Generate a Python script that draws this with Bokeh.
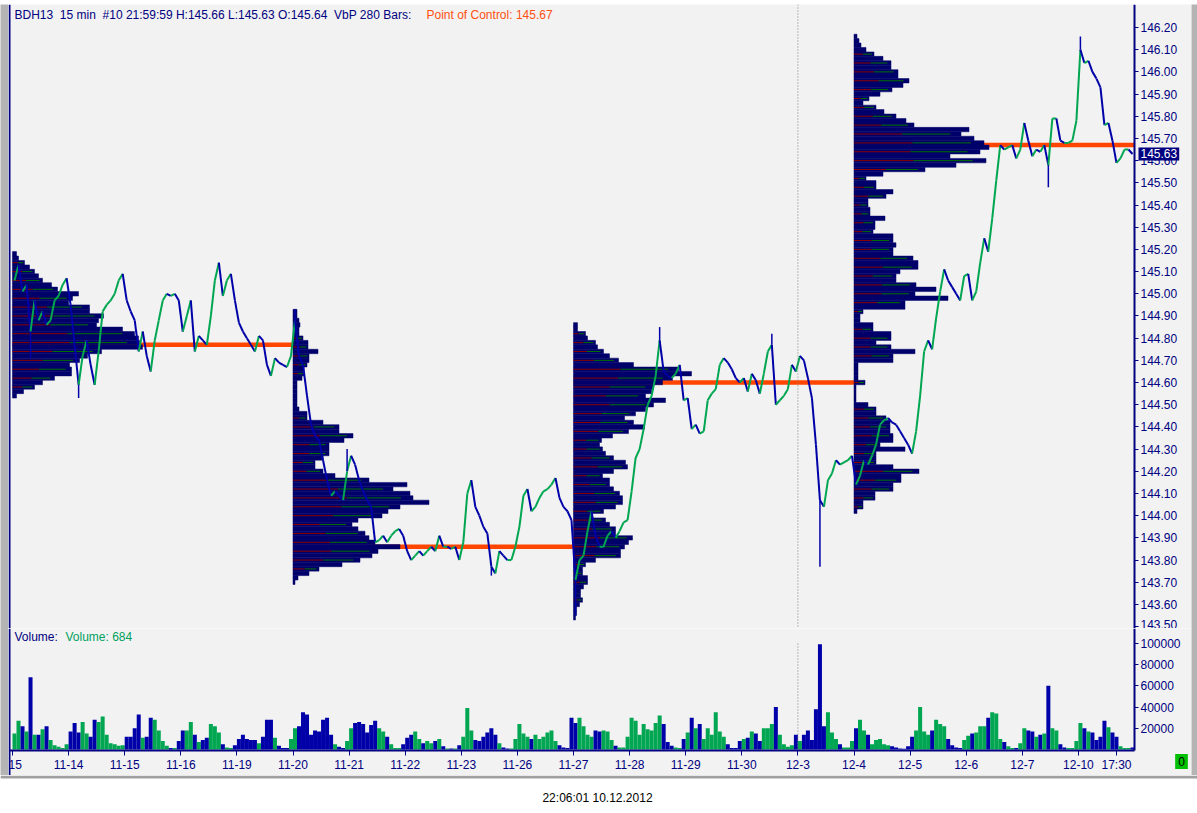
from bokeh.plotting import figure
from bokeh.models import (Range1d, FixedTicker, PrintfTickFormatter, Label, ColumnDataSource,
                          Span, LinearAxis)
from bokeh.layouts import column, row
from bokeh.embed import file_html
from bokeh.resources import INLINE

# ---------------- data ----------------
header_info = "BDH13\u00a0 15 min\u00a0 #10 21:59:59 H:145.66 L:145.63 O:145.64\u00a0 VbP 280 Bars:"
header_poc = "Point of Control: 145.67"
volume_title = "Volume:"
volume_value = "Volume: 684"
timestamp = "22:06:01 10.12.2012"
last_price = 145.63
last_marker = "0"

day_labels = ["15", "11-14", "11-15", "11-16", "11-19", "11-20", "11-21", "11-22", "11-23",
              "11-26", "11-27", "11-28", "11-29", "11-30", "12-3", "12-4", "12-5", "12-6",
              "12-7", "12-10"]
session_open_hour = 8.0
session_hours = 14.0
extra_tick_label = "17:30"
extra_tick_hour = 17.5
month_break_label = "12-3"
samples_per_day = 14

close = [
    145.06, 145.13, 145.01, 145.04, 144.83, 144.97, 144.88, 144.92, 144.86, 144.88, 144.97, 144.99, 145.04, 145.07,
    144.95, 144.77, 144.59, 144.72, 144.79, 144.68, 144.59, 144.74, 144.92, 144.95, 144.97, 145.00, 145.06, 145.09,
    144.97, 144.92, 144.88, 144.74, 144.83, 144.72, 144.65, 144.79, 144.88, 144.97, 145.00, 144.99, 145.00, 144.97,
    144.83, 144.90, 144.97, 144.74, 144.81, 144.79, 144.77, 144.90, 145.06, 145.14, 144.99, 145.06, 145.09, 144.97,
    144.87, 144.83, 144.80, 144.77, 144.74, 144.81, 144.79, 144.68, 144.63, 144.71, 144.69, 144.68, 144.67, 144.72,
    144.88, 144.72, 144.68, 144.54, 144.41, 144.36, 144.34, 144.25, 144.16, 144.09, 144.11, 144.09, 144.07, 144.20,
    144.27, 144.23, 144.16, 144.11, 144.07, 144.04, 143.88, 143.89, 143.91, 143.88, 143.91, 143.93, 143.94, 143.91,
    143.84, 143.80, 143.82, 143.84, 143.82, 143.84, 143.86, 143.84, 143.91, 143.86, 143.86, 143.85, 143.86, 143.80,
    143.88, 144.10, 144.16, 144.04, 144.00, 143.95, 143.92, 143.77, 143.74, 143.84, 143.82, 143.80, 143.80, 143.86,
    143.95, 144.09, 144.12, 144.02, 144.04, 144.08, 144.11, 144.12, 144.14, 144.17, 144.08, 144.04, 144.02, 143.98,
    143.71, 143.80, 143.82, 143.93, 144.02, 143.91, 143.86, 143.86, 143.91, 143.93, 143.90, 143.93, 143.97, 143.98,
    144.11, 144.26, 144.30, 144.39, 144.50, 144.54, 144.63, 144.79, 144.65, 144.63, 144.62, 144.64, 144.68, 144.52,
    144.53, 144.39, 144.41, 144.37, 144.38, 144.52, 144.55, 144.57, 144.68, 144.71, 144.69, 144.66, 144.62, 144.60,
    144.62, 144.56, 144.64, 144.61, 144.55, 144.64, 144.74, 144.77, 144.50, 144.52, 144.54, 144.57, 144.68, 144.65,
    144.72, 144.70, 144.62, 144.53, 144.32, 144.07, 144.04, 144.16, 144.19, 144.25, 144.23, 144.24, 144.25, 144.27,
    144.14, 144.18, 144.25, 144.23, 144.27, 144.32, 144.41, 144.43, 144.44, 144.42, 144.41, 144.38, 144.35, 144.32,
    144.28, 144.38, 144.54, 144.74, 144.79, 144.75, 144.89, 145.01, 145.11, 145.06, 145.03, 145.00, 144.97, 145.08,
    145.09, 144.97, 145.01, 145.14, 145.25, 145.19, 145.34, 145.51, 145.67, 145.65, 145.66, 145.67, 145.61, 145.65,
    145.77, 145.69, 145.62, 145.65, 145.64, 145.67, 145.58, 145.79, 145.79, 145.69, 145.68, 145.68, 145.69, 145.78,
    146.10, 146.04, 146.05, 146.00, 145.97, 145.93, 145.76, 145.77, 145.69, 145.59, 145.61, 145.65, 145.65, 145.63,
]

# volume per sample, thousands of contracts
vol_k = [
    15, 27, 22, 17, 68, 14, 14, 19, 22, 9, 4, 2.5, 1.5, 5,
    17, 25, 16, 26, 15, 12, 28, 26, 31, 14, 6, 5, 3.5, 4,
    12, 12, 20, 33, 11, 12, 30, 28, 18, 8, 3.5, 1.5, 1.5, 8,
    18, 18, 26, 14, 7, 9, 11, 24, 22, 16, 5, 2, 1.5, 4,
    10, 14, 10, 9, 9, 6, 12, 28, 28, 11, 3.5, 1.5, 1.5, 10,
    20, 22, 35, 33, 14, 18, 17, 28, 30, 14, 5, 2.5, 1.5, 8,
    20, 25, 26, 24, 16, 23, 27, 20, 17, 12, 5, 1.5, 1.5, 5,
    11, 14, 17, 10, 6, 8, 6, 8, 10, 3, 1, 1, 1, 4,
    12, 39, 18, 9, 8, 12, 16, 20, 14, 6, 2, 1, 1, 10,
    24, 15, 12, 10, 14, 10, 12, 16, 18, 8, 4, 2, 1.5, 30,
    25, 30, 22, 14, 12, 18, 17, 18, 17, 9, 3.5, 2, 2, 12,
    30, 27, 14, 24, 19, 18, 25, 32, 24, 7, 3.5, 2, 1.5, 10,
    16, 30, 20, 24, 10, 20, 14, 35, 17, 12, 5, 1.5, 1.5, 8,
    10, 11, 17, 15, 8, 20, 20, 24, 40, 14, 5, 2.5, 4, 14,
    8, 14, 18, 9, 38, 99, 22, 35, 16, 10, 5, 2, 2, 8,
    20, 28, 18, 14, 5, 9, 10, 5, 4, 3, 2, 1, 0.6, 3,
    12, 18, 40, 17, 14, 18, 28, 24, 22, 10, 4, 2, 1.5, 9,
    13, 15, 16, 22, 22, 30, 35, 34, 10, 7, 3, 1.5, 1.5, 6,
    20, 18, 17, 12, 14, 15, 60, 20, 18, 5, 2, 1.5, 1.5, 8,
    25, 20, 17, 16, 9, 12, 27, 21, 16, 12, 3, 1.5, 1.5, 2,
]

# extreme prints that stick out of the close path
spike_idx = [4, 16, 70, 83, 119, 140, 161, 189, 201, 258, 266]
spike_price = [144.71, 144.53, 144.93, 144.30, 143.73, 143.55, 144.85, 144.82, 143.77, 145.48, 146.16]

# volume-by-price profiles, one per 5-day block (top level, step 0.02, volume units)
week_len_days = 5
poc_price = [144.77, 143.86, 144.60, 145.67]
vbp_step = 0.02
vbp_top = [145.18, 144.92, 144.86, 146.16]
vbp1 = [4, 6, 12, 17, 22, 26, 30, 39, 45, 66, 60, 56, 77, 77, 91, 86, 84, 110, 122, 126,
        127, 130, 89, 75, 67, 57, 59, 59, 42, 30, 22, 11, 4]
vbp2 = [4, 4, 6, 7, 6, 6, 10, 15, 15, 25, 16, 16, 14, 11, 11, 9, 4, 4, 4, 4,
        4, 4, 6, 14, 14, 30, 46, 46, 60, 51, 36, 36, 36, 30, 22, 22, 30, 42, 76, 114,
        100, 117, 120, 136, 107, 95, 89, 65, 59, 65, 72, 76, 82, 107, 85, 79, 67, 49, 26, 16,
        5, 2]
vbp3 = [4, 4, 12, 14, 22, 24, 30, 36, 45, 60, 105, 118, 99, 89, 80, 78, 72, 92, 80, 72,
        62, 51, 60, 71, 55, 39, 28, 26, 29, 32, 40, 52, 54, 40, 29, 36, 36, 40, 46, 49,
        49, 42, 30, 19, 32, 36, 42, 42, 59, 55, 51, 47, 47, 22, 12, 9, 9, 14, 14, 10,
        7, 7, 9, 6, 3, 3, 2]
vbp4 = [3, 5, 7, 12, 20, 29, 37, 37, 44, 44, 55, 49, 38, 26, 15, 9, 22, 30, 42, 52,
        60, 115, 107, 120, 130, 135, 126, 96, 132, 102, 71, 29, 12, 22, 22, 39, 32, 14, 14, 16,
        16, 31, 21, 21, 19, 39, 39, 42, 39, 39, 59, 64, 64, 46, 42, 42, 62, 82, 61, 94,
        51, 51, 9, 6, 6, 19, 19, 37, 37, 22, 37, 61, 39, 39, 4, 4, 4, 4, 11, 2,
        2, 2, 2, 14, 22, 22, 32, 36, 36, 36, 39, 39, 26, 51, 22, 22, 22, 39, 65, 47,
        47, 39, 39, 21, 21, 9, 9, 3]

price_tick_lo, price_tick_hi, price_tick_step = 143.50, 146.20, 0.10
vol_ticks = [20000, 40000, 60000, 80000, 100000]

# ---------------- geometry / style ----------------
PAGE_W, PAGE_H = 1197, 813
LEFT_W, RIGHT_W, TOP_H = 8, 6, 4
PANE_W = PAGE_W - LEFT_W - RIGHT_W
PRICE_H = 624
VOL_H = 147
STATUS_H = PAGE_H - TOP_H - PRICE_H - VOL_H

PX_PER_DAY = 56.1
PX_PER_PRICE = 221.9
PX_PER_VOL = 1.0625 / 1000.0
VBP_UNIT_DAYS = 1.0 / PX_PER_DAY
DAY0_PX = 12 - LEFT_W
AXIS_PX = 1134 - LEFT_W

X0 = -DAY0_PX / PX_PER_DAY
X1 = X0 + PANE_W / PX_PER_DAY
X_AXIS = X0 + AXIS_PX / PX_PER_DAY
X_LEFT = X0 + 1.0 / PX_PER_DAY
P_HI = 146.20 + (27 - TOP_H) / PX_PER_PRICE
P_LO = P_HI - PRICE_H / PX_PER_PRICE
VBASE_PX = 749 - TOP_H - PRICE_H
V_HI = VBASE_PX / PX_PER_VOL
V_LO = V_HI - VOL_H / PX_PER_VOL
V_AXIS = -1.0 / PX_PER_VOL

BG = "#f2f2f2"
NAVY = "#000080"
BAR_BLUE = "#0000a8"
BAR_GREEN = "#00a651"
PROFILE = "#00006a"
POC = "#ff4500"
FRAME_GRAY = "#b4b4b4"
FONT = "Liberation Sans"


def pane(width, height, xr, yr, bg=BG):
    f = figure(width=width, height=height, x_range=xr, y_range=yr, output_backend="svg",
               toolbar_location=None, x_axis_location=None, y_axis_location=None,
               min_border=0, min_border_left=0, min_border_right=0,
               min_border_top=0, min_border_bottom=0)
    f.background_fill_color = bg
    f.border_fill_color = bg
    f.outline_line_color = None
    f.grid.visible = False
    return f


def style_axis(ax):
    ax.axis_line_color = NAVY
    ax.axis_line_width = 2
    ax.major_tick_line_color = NAVY
    ax.major_tick_in = 0
    ax.major_tick_out = 4
    ax.minor_tick_line_color = None
    ax.major_label_text_color = NAVY
    ax.major_label_text_font = FONT
    ax.major_label_text_font_size = "12px"
    ax.major_label_standoff = 2


# ---------------- price pane ----------------
p = pane(PANE_W, PRICE_H, Range1d(X0, X1), Range1d(P_LO, P_HI))
n_ticks = int(round((price_tick_hi - price_tick_lo) / price_tick_step)) + 1
price_ticks = [round(price_tick_lo + price_tick_step * i, 2) for i in range(n_ticks)]
ya = LinearAxis(ticker=FixedTicker(ticks=price_ticks), formatter=PrintfTickFormatter(format="%.2f"),
                fixed_location=X_AXIS)
style_axis(ya)
p.add_layout(ya, "right")

p.add_layout(Span(location=X_LEFT, dimension="height", line_color=NAVY, line_width=2))
month_break = day_labels.index(month_break_label)
p.add_layout(Span(location=month_break, dimension="height", line_color="#808080",
                  line_width=1, line_dash="1 2"))

# POC lines (under the profiles)
n_sec = len(poc_price)
p.segment(x0=[k * week_len_days for k in range(n_sec)],
          x1=[(k + 1) * week_len_days for k in range(n_sec)],
          y0=poc_price, y1=poc_price, line_color=POC, line_width=4.5)

# profiles
for k, (top, prof) in enumerate(zip(vbp_top, [vbp1, vbp2, vbp3, vbp4])):
    start = k * week_len_days
    levels = [round(top - vbp_step * i, 2) for i in range(len(prof))]
    rights = [start + w * VBP_UNIT_DAYS for w in prof]
    p.hbar(y=levels, left=start, right=rights, height=vbp_step, fill_color=PROFILE,
           line_color=PROFILE, line_width=0.5)
    sel = [i for i in range(len(prof)) if i % 2 == 0 and prof[i] > 8]
    ly = [levels[i] for i in sel]
    mid = [start + 0.45 * prof[i] * VBP_UNIT_DAYS for i in sel]
    end = [start + 0.90 * prof[i] * VBP_UNIT_DAYS for i in sel]
    p.segment(x0=[start] * len(sel), x1=mid, y0=ly, y1=ly, line_color="#8b0000", line_width=1)
    p.segment(x0=mid, x1=end, y0=ly, y1=ly, line_color="#007000", line_width=1)

# price path
xs = [(i + 0.5) / samples_per_day for i in range(len(close))]
up = [True] + [close[i] >= close[i - 1] for i in range(1, len(close))]
cols = [BAR_GREEN if u else BAR_BLUE for u in up]
p.segment(x0="x0", y0="y0", x1="x1", y1="y1", line_color="c", line_width=2.0,
          source=ColumnDataSource(dict(x0=xs[:-1], x1=xs[1:], y0=close[:-1], y1=close[1:], c=cols[1:])))
p.segment(x0=[xs[i] for i in spike_idx], x1=[xs[i] for i in spike_idx],
          y0=[close[i] for i in spike_idx], y1=spike_price, line_color=BAR_BLUE, line_width=1.5)

# header texts
hy = P_HI - (14 - TOP_H) / PX_PER_PRICE
p.add_layout(Label(x=X0 + (14 - LEFT_W) / PX_PER_DAY, y=hy, text=header_info, text_color=NAVY,
                   text_font=FONT, text_font_size="12px", text_baseline="middle"))
p.add_layout(Label(x=X0 + (426 - LEFT_W) / PX_PER_DAY, y=hy, text=header_poc, text_color="#ff5010",
                   text_font=FONT, text_font_size="12px", text_baseline="middle"))
p.add_layout(Label(x=X_AXIS + 4 / PX_PER_DAY, y=last_price, text="%.2f" % last_price,
                   text_color="white", background_fill_color=NAVY, text_font=FONT,
                   text_font_size="12px", text_baseline="middle", padding=2))

# ---------------- volume pane ----------------
v = pane(PANE_W, VOL_H, p.x_range, Range1d(V_LO, V_HI))
vols = [x * 1000 for x in vol_k]
v.vbar(x=xs, top=vols, bottom=0, width=1.0 / samples_per_day, fill_color=cols, line_color=None)

va = LinearAxis(ticker=FixedTicker(ticks=vol_ticks), formatter=PrintfTickFormatter(format="%d"),
                fixed_location=X_AXIS, bounds=(V_AXIS, V_HI))
style_axis(va)
v.add_layout(va, "right")

extra_pos = (len(day_labels) - 1) + (extra_tick_hour - session_open_hour) / session_hours
xticks = list(range(len(day_labels))) + [extra_pos]
overrides = {i: lab for i, lab in enumerate(day_labels)}
overrides[extra_pos] = extra_tick_label
xa = LinearAxis(ticker=FixedTicker(ticks=xticks), major_label_overrides=overrides,
                fixed_location=V_AXIS, bounds=(X_LEFT, X_AXIS))
style_axis(xa)
xa.major_tick_out = 5
v.add_layout(xa, "below")

v.add_layout(Span(location=X_LEFT, dimension="height", line_color=NAVY, line_width=2))
v.segment(x0=[month_break], x1=[month_break], y0=[0], y1=[vol_ticks[-1]],
          line_color="#808080", line_width=1, line_dash="1 2")

vy = V_HI - (636 - 628) / PX_PER_VOL
v.add_layout(Label(x=X0 + (14 - LEFT_W) / PX_PER_DAY, y=vy, text=volume_title, text_color=NAVY,
                   text_font=FONT, text_font_size="12px", text_baseline="middle"))
v.add_layout(Label(x=X0 + (65 - LEFT_W) / PX_PER_DAY, y=vy, text=volume_value, text_color="#00a060",
                   text_font=FONT, text_font_size="12px", text_baseline="middle"))
v.add_layout(Label(x=X_AXIS + 47 / PX_PER_DAY, y=-(761 - 749) / PX_PER_VOL, text=last_marker,
                   text_color="#000000", background_fill_color="#00c000",
                   text_font=FONT, text_font_size="12px", text_align="center",
                   text_baseline="middle", padding=3))

# ---------------- window frame + status line ----------------
top = pane(PAGE_W, TOP_H, Range1d(0, 1), Range1d(0, 1), FRAME_GRAY)
left = pane(LEFT_W, PRICE_H + VOL_H, Range1d(0, 1), Range1d(0, 1), FRAME_GRAY)
right = pane(RIGHT_W, PRICE_H + VOL_H, Range1d(0, 1), Range1d(0, 1), FRAME_GRAY)

s = pane(PAGE_W, STATUS_H, Range1d(0, PAGE_W), Range1d(0, STATUS_H), "white")
s.add_layout(Span(location=STATUS_H - 1.5, dimension="width", line_color="#a0a0a0", line_width=3))
s.add_layout(Label(x=597, y=STATUS_H - (797 - (PAGE_H - STATUS_H)), text=timestamp,
                   text_color="#000000", text_font=FONT, text_font_size="12px",
                   text_align="center", text_baseline="middle"))

layout = column(top, row(left, column(p, v, spacing=0), right, spacing=0), s, spacing=0)
open("out.html", "w").write(file_html(layout, INLINE))
